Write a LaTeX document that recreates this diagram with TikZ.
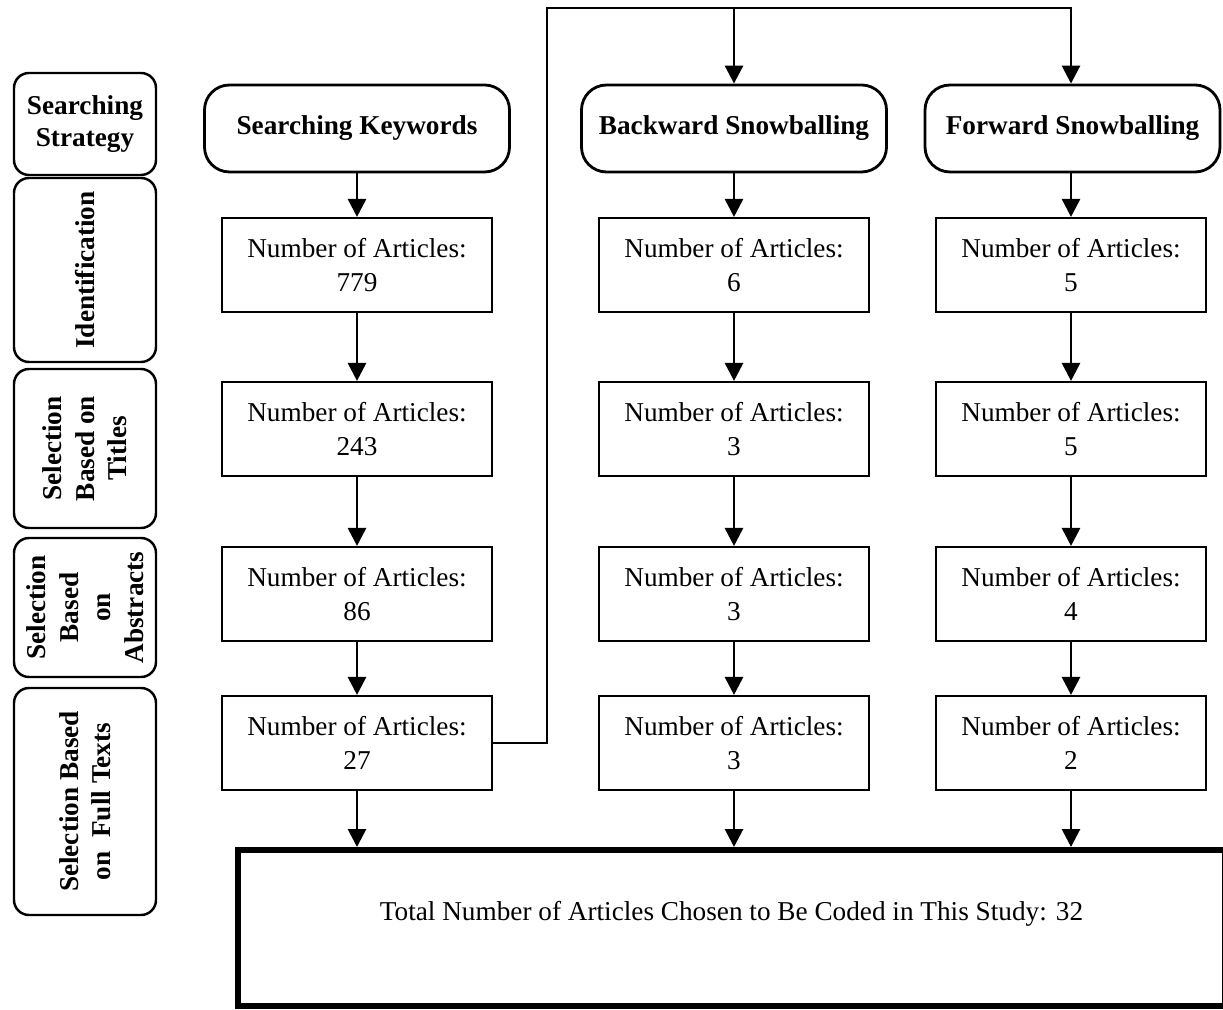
\documentclass[tikz,border=0pt]{standalone}
\usepackage{fontspec}
\setmainfont{Liberation Serif}
\usetikzlibrary{arrows.meta}

\begin{document}
\begin{tikzpicture}[
  >={Triangle[length=0.36cm, width=0.36cm]},
  font=\fontsize{15.5}{19}\selectfont,
  stage/.style={draw, line width=1.4pt, rounded corners=0.3cm, minimum height=2.84cm, inner sep=0pt, align=center, font=\fontsize{15.5}{18.5}\selectfont\bfseries},
  source/.style={draw, line width=1.6pt, rounded corners=0.5cm, minimum width=6.1cm, minimum height=1.74cm, font=\fontsize{15.5}{19}\selectfont\bfseries},
  count/.style={draw, line width=1.2pt, minimum width=5.4cm, minimum height=1.88cm, align=center},
  flow/.style={->, line width=1.6pt}
]

\useasboundingbox (0, 0) rectangle (24.46, 20.18);

% stages on the left
\node[stage, minimum width=2.84cm, minimum height=2.04cm] (stage strategy) at (1.7, 17.7) {Searching\\Strategy};
\node[stage, rotate=90, minimum width=3.68cm] (stage id) at (1.7, 14.78) {Identification};
\node[stage, rotate=90, minimum width=3.18cm] (stage titles) at (1.7, 11.21) {Selection\\Based on\\Titles};
\node[stage, rotate=90, minimum width=2.78cm] (stage abstracts) at (1.7, 8.03) {Selection\\Based\\on\\Abstracts};
\node[stage, rotate=90, minimum width=4.54cm] (stage full) at (1.7, 4.15) {Selection Based\\on~ Full Texts};

% searching keywords
\node[source] (head kw) at (7.14, 17.61) {Searching Keywords};
\node[count] (count kw a) at (7.14, 14.88) {Number of Articles:\\779};
\node[count] (count kw b) at (7.14, 11.6) {Number of Articles:\\243};
\node[count] (count kw c) at (7.14, 8.3) {Number of Articles:\\86};
\node[count] (count kw d) at (7.14, 5.32) {Number of Articles:\\27};

% backward snowballing
\node[source] (head bw) at (14.68, 17.61) {Backward Snowballing};
\node[count] (count bw a) at (14.68, 14.88) {Number of Articles:\\6};
\node[count] (count bw b) at (14.68, 11.6) {Number of Articles:\\3};
\node[count] (count bw c) at (14.68, 8.3) {Number of Articles:\\3};
\node[count] (count bw d) at (14.68, 5.32) {Number of Articles:\\3};

% forward snowballing
\node[source, minimum width=5.9cm] (head fw) at (21.45, 17.61) {Forward Snowballing};
\node[count] (count fw a) at (21.42, 14.88) {Number of Articles:\\5};
\node[count] (count fw b) at (21.42, 11.6) {Number of Articles:\\5};
\node[count] (count fw c) at (21.42, 8.3) {Number of Articles:\\4};
\node[count] (count fw d) at (21.42, 5.32) {Number of Articles:\\2};

\node[draw, line width=3.4pt, minimum width=19.74cm, minimum height=3.12cm, text depth=0.7cm] (total) at (14.63, 1.62) {Total Number of Articles Chosen to Be Coded in This Study: 32};

\draw[flow] (head kw) -- (count kw a) {};
\draw[flow] (count kw a) -- (count kw b) {};
\draw[flow] (count kw b) -- (count kw c) {};
\draw[flow] (count kw c) -- (count kw d) {};
\draw[flow] (count kw d) -- (count kw d |- total.north) {};

\draw[flow] (head bw) -- (count bw a) {};
\draw[flow] (count bw a) -- (count bw b) {};
\draw[flow] (count bw b) -- (count bw c) {};
\draw[flow] (count bw c) -- (count bw d) {};
\draw[flow] (count bw d) -- (count bw d |- total.north) {};

\draw[flow] (count fw a |- head fw.south) -- (count fw a) {};
\draw[flow] (count fw a) -- (count fw b) {};
\draw[flow] (count fw b) -- (count fw c) {};
\draw[flow] (count fw c) -- (count fw d) {};
\draw[flow] (count fw d) -- (count fw d |- total.north) {};

% keyword results feed the snowballing
\coordinate (loop top) at (10.94, 20.02);
\draw[flow] (count kw d.east) -| (loop top) -| (count fw a |- head fw.north) {};
\draw[flow] (head bw.north |- loop top) -- (head bw.north) {};

\end{tikzpicture}
\end{document}
